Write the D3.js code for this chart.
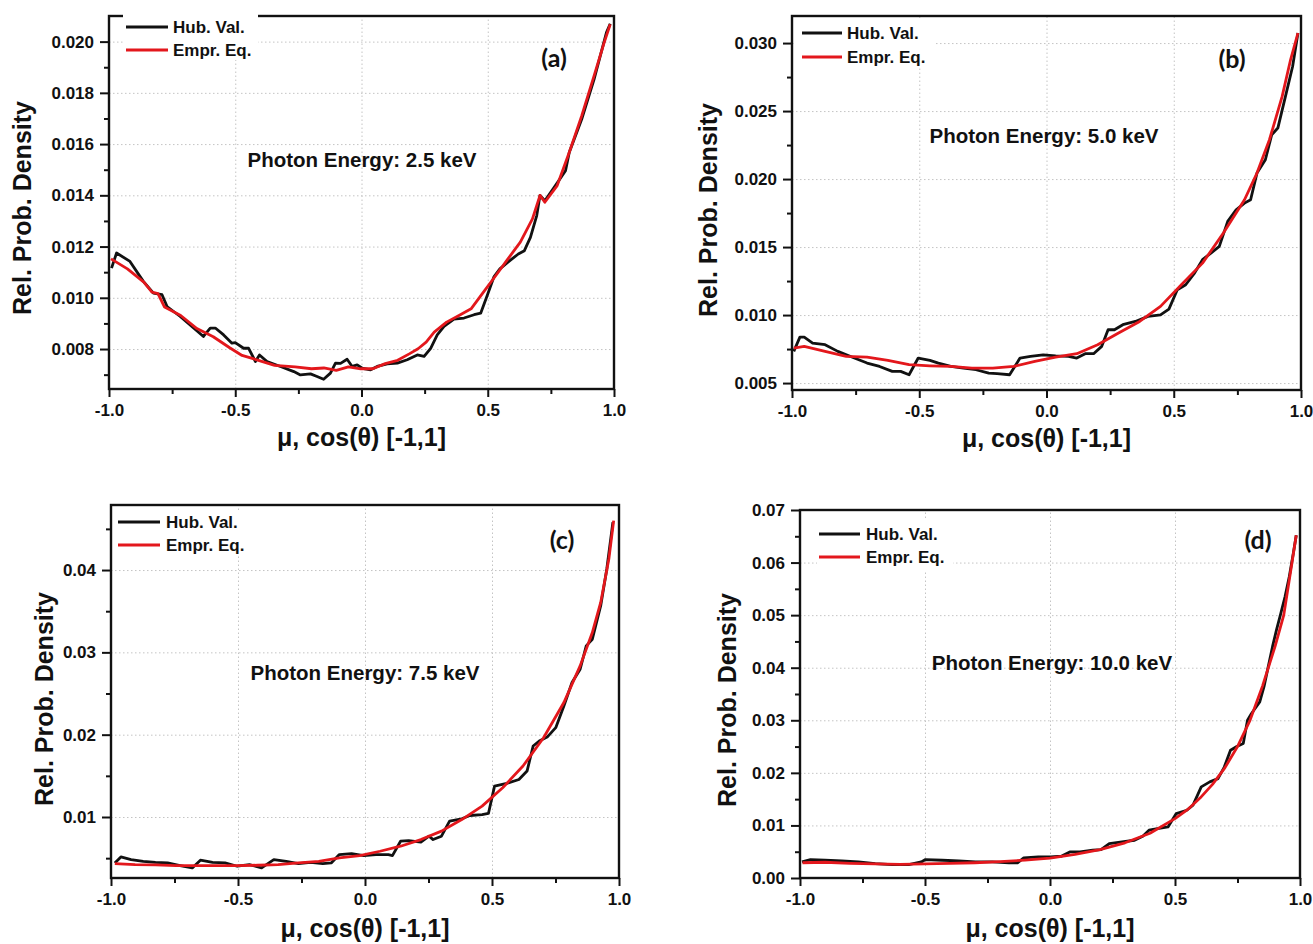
<!DOCTYPE html>
<html>
<head>
<meta charset="utf-8">
<script src="https://cdn.jsdelivr.net/npm/d3@7"></script>
<style>
  body { margin: 0; background: #fff; }
  svg text { font-family: "Liberation Sans", Arial, sans-serif; font-weight: bold; fill: #111; }
  .grid line { stroke: #c4c4c4; stroke-width: 1; stroke-dasharray: 1.5,2.5; }
  .grid .domain { display: none; }
</style>
</head>
<body>
<div id="chart"></div>
<script>
// x axis ticks (shared)
var xTicks = [-1, -0.5, 0, 0.5, 1];
var xTickLabels = ["-1.0", "-0.5", "0.0", "0.5", "1.0"];
var xMinor = [-0.75, -0.25, 0.25, 0.75];

// y axis ticks per panel
var yTicksA = [0.008, 0.010, 0.012, 0.014, 0.016, 0.018, 0.020];
var yMinorA = [0.007, 0.009, 0.011, 0.013, 0.015, 0.017, 0.019];
var yTicksB = [0.005, 0.010, 0.015, 0.020, 0.025, 0.030];
var yMinorB = [0.0075, 0.0125, 0.0175, 0.0225, 0.0275];
var yTicksC = [0.01, 0.02, 0.03, 0.04];
var yMinorC = [0.005, 0.015, 0.025, 0.035, 0.045];
var yTicksD = [0.00, 0.01, 0.02, 0.03, 0.04, 0.05, 0.06, 0.07];
var yMinorD = [0.005, 0.015, 0.025, 0.035, 0.045, 0.055, 0.065];

var seriesNames = ["Hub. Val.", "Empr. Eq."];
var energies = ["2.5", "5.0", "7.5", "10.0"];
var panelTags = ["(a)", "(b)", "(c)", "(d)"];

// (a) 2.5 keV  [mu, density]
var hubA = [[-0.99,0.01116],[-0.97,0.01175],[-0.917,0.01142],[-0.864,0.01064],[-0.824,0.01018],[-0.79,0.01012],[-0.77,0.00966],[-0.718,0.00927],[-0.665,0.00882],[-0.626,0.00849],[-0.599,0.00882],[-0.579,0.00882],[-0.546,0.00855],[-0.513,0.00823],[-0.5,0.00825],[-0.467,0.00803],[-0.447,0.00803],[-0.42,0.00751],[-0.404,0.00777],[-0.374,0.00751],[-0.321,0.00732],[-0.268,0.00712],[-0.242,0.00699],[-0.202,0.00703],[-0.176,0.00693],[-0.15,0.00682],[-0.123,0.00706],[-0.103,0.00745],[-0.083,0.00744],[-0.057,0.0076],[-0.037,0.00732],[-0.017,0.00738],[0.003,0.00725],[0.036,0.00719],[0.062,0.00732],[0.102,0.00742],[0.142,0.00745],[0.181,0.00758],[0.221,0.00777],[0.248,0.00771],[0.274,0.00803],[0.3,0.00855],[0.327,0.00888],[0.366,0.00917],[0.406,0.00921],[0.446,0.00934],[0.472,0.0094],[0.499,0.01012],[0.525,0.01083],[0.548,0.01113],[0.58,0.01139],[0.621,0.01171],[0.645,0.01184],[0.669,0.01236],[0.694,0.01321],[0.707,0.014],[0.726,0.01379],[0.759,0.01425],[0.808,0.01496],[0.823,0.01568],[0.872,0.01697],[0.921,0.01853],[0.97,0.02035],[0.985,0.0207]];
var emprA = [[-0.992,0.01152],[-0.927,0.01113],[-0.862,0.01061],[-0.83,0.01022],[-0.806,0.01016],[-0.78,0.00964],[-0.716,0.00931],[-0.652,0.0088],[-0.587,0.00848],[-0.522,0.00805],[-0.473,0.00775],[-0.408,0.00756],[-0.344,0.00736],[-0.263,0.0073],[-0.198,0.00723],[-0.149,0.00726],[-0.1,0.00717],[-0.052,0.0073],[-0.003,0.00723],[0.045,0.00723],[0.094,0.00743],[0.143,0.00756],[0.191,0.00782],[0.224,0.00801],[0.256,0.00827],[0.288,0.00866],[0.337,0.00905],[0.386,0.00931],[0.434,0.00957],[0.483,0.01022],[0.532,0.01087],[0.58,0.01152],[0.629,0.01217],[0.677,0.01308],[0.707,0.014],[0.726,0.01373],[0.775,0.01438],[0.823,0.01568],[0.872,0.0171],[0.921,0.01866],[0.961,0.01996],[0.985,0.02068]];

// (b) 5.0 keV
var hubB = [[-0.993,0.00733],[-0.969,0.00838],[-0.952,0.00838],[-0.919,0.00794],[-0.87,0.00782],[-0.82,0.00733],[-0.755,0.00684],[-0.705,0.00647],[-0.656,0.00622],[-0.606,0.00586],[-0.573,0.00586],[-0.54,0.00561],[-0.504,0.00684],[-0.458,0.00667],[-0.425,0.00647],[-0.376,0.00622],[-0.326,0.0061],[-0.277,0.00598],[-0.227,0.00573],[-0.194,0.00569],[-0.145,0.00561],[-0.104,0.00684],[-0.063,0.00696],[-0.013,0.00708],[0.036,0.007],[0.086,0.00696],[0.119,0.00684],[0.152,0.00716],[0.185,0.00716],[0.217,0.0077],[0.242,0.00892],[0.267,0.00892],[0.3,0.00929],[0.349,0.00953],[0.399,0.0099],[0.448,0.01002],[0.481,0.01044],[0.514,0.01186],[0.547,0.01223],[0.58,0.01304],[0.613,0.01407],[0.646,0.01456],[0.679,0.01505],[0.712,0.01689],[0.745,0.01774],[0.778,0.01823],[0.802,0.01848],[0.827,0.02044],[0.86,0.02142],[0.885,0.02326],[0.909,0.02375],[0.942,0.02632],[0.967,0.02828],[0.988,0.03074]];
var emprB = [[-0.993,0.00757],[-0.952,0.0077],[-0.87,0.00733],[-0.787,0.00696],[-0.705,0.00691],[-0.623,0.00667],[-0.54,0.00635],[-0.458,0.00627],[-0.376,0.00622],[-0.293,0.0061],[-0.211,0.0061],[-0.129,0.00622],[-0.046,0.00659],[0.036,0.00691],[0.119,0.00716],[0.201,0.00782],[0.283,0.00868],[0.366,0.00953],[0.448,0.01064],[0.53,0.01223],[0.613,0.01382],[0.695,0.01603],[0.778,0.01848],[0.827,0.02044],[0.876,0.02289],[0.926,0.02608],[0.959,0.02877],[0.988,0.03074]];

// (c) 7.5 keV
var hubC = [[-0.985,0.00442],[-0.961,0.00515],[-0.921,0.00483],[-0.873,0.00462],[-0.825,0.0045],[-0.777,0.00442],[-0.728,0.0041],[-0.68,0.00381],[-0.648,0.00475],[-0.6,0.0045],[-0.551,0.00442],[-0.503,0.00402],[-0.455,0.00422],[-0.407,0.00381],[-0.359,0.00483],[-0.31,0.00462],[-0.262,0.00434],[-0.214,0.0045],[-0.166,0.00434],[-0.133,0.00442],[-0.101,0.00544],[-0.053,0.00556],[-0.005,0.00531],[0.043,0.00544],[0.092,0.00544],[0.108,0.00531],[0.14,0.00706],[0.172,0.00714],[0.22,0.00694],[0.252,0.00767],[0.268,0.00726],[0.301,0.00767],[0.333,0.00949],[0.381,0.00978],[0.413,0.01018],[0.461,0.0103],[0.486,0.01043],[0.51,0.01375],[0.558,0.01408],[0.606,0.01456],[0.638,0.01558],[0.662,0.01862],[0.686,0.01923],[0.719,0.01976],[0.751,0.02085],[0.783,0.02349],[0.815,0.02633],[0.847,0.02795],[0.871,0.03079],[0.895,0.0316],[0.928,0.03566],[0.952,0.04012],[0.976,0.0458]];
var emprC = [[-0.985,0.00434],[-0.905,0.00422],[-0.825,0.00418],[-0.744,0.0041],[-0.664,0.0041],[-0.584,0.0041],[-0.503,0.0041],[-0.423,0.00414],[-0.342,0.00422],[-0.262,0.00442],[-0.182,0.00462],[-0.101,0.00503],[-0.021,0.00531],[0.059,0.00584],[0.14,0.00645],[0.22,0.00726],[0.301,0.00828],[0.381,0.00969],[0.461,0.01132],[0.542,0.01355],[0.622,0.01619],[0.703,0.01963],[0.783,0.0239],[0.847,0.02836],[0.895,0.03241],[0.928,0.03607],[0.96,0.04134],[0.979,0.046]];

// (d) 10.0 keV
var hubD = [[-0.992,0.00306],[-0.958,0.0035],[-0.9,0.00338],[-0.833,0.00325],[-0.766,0.00306],[-0.699,0.00274],[-0.632,0.00255],[-0.565,0.00255],[-0.515,0.00306],[-0.498,0.0035],[-0.431,0.00338],[-0.365,0.00325],[-0.298,0.00306],[-0.231,0.00306],[-0.164,0.00287],[-0.13,0.00287],[-0.105,0.00382],[-0.047,0.00401],[0.003,0.00401],[0.045,0.00414],[0.079,0.00496],[0.12,0.00496],[0.171,0.00528],[0.204,0.00541],[0.237,0.00655],[0.288,0.00687],[0.338,0.00718],[0.371,0.00795],[0.396,0.00909],[0.43,0.00941],[0.472,0.00972],[0.505,0.01226],[0.547,0.01289],[0.572,0.01385],[0.605,0.01734],[0.639,0.01829],[0.672,0.0189],[0.697,0.0211],[0.722,0.0243],[0.747,0.025],[0.773,0.0256],[0.79,0.03],[0.806,0.0313],[0.839,0.0335],[0.856,0.0364],[0.873,0.0402],[0.89,0.044],[0.906,0.0472],[0.923,0.0503],[0.94,0.0535],[0.957,0.0573],[0.973,0.0617],[0.985,0.0652]];
var emprD = [[-0.99,0.0029],[-0.9,0.003],[-0.8,0.0028],[-0.7,0.0027],[-0.6,0.0026],[-0.5,0.0027],[-0.4,0.0028],[-0.3,0.0029],[-0.2,0.0031],[-0.1,0.0034],[0.0,0.0038],[0.1,0.0045],[0.2,0.0054],[0.3,0.0067],[0.4,0.0085],[0.5,0.0113],[0.55,0.013],[0.6,0.0152],[0.65,0.0178],[0.7,0.021],[0.75,0.025],[0.8,0.03],[0.85,0.0365],[0.9,0.044],[0.935,0.05],[0.968,0.06],[0.985,0.0652]];

// layout of the four panels (page pixels)
var panels = [
  {left:109, right:614, top:16, bottom:389, yDomain:[0.00644,0.0210], yTicks:yTicksA, yMinor:yMinorA, fmt:".3f",
   hub:hubA, empr:emprA, ytX:31, ytY:208, xtY:446, enX:362, enY:167, tagX:554, tagY:67,
   leg:{box:[123,12,135,48], x1:126, x2:168, y1:27, y2:50, tx:173}},
  {left:792, right:1301, top:16, bottom:390, yDomain:[0.00449,0.03199], yTicks:yTicksB, yMinor:yMinorB, fmt:".3f",
   hub:hubB, empr:emprB, ytX:717, ytY:210, xtY:447, enX:1044, enY:143, tagX:1232, tagY:68,
   leg:{box:[796,20,139,48], x1:802, x2:842, y1:33, y2:57, tx:847}},
  {left:111, right:619, top:505, bottom:878, yDomain:[0.00259,0.0479], yTicks:yTicksC, yMinor:yMinorC, fmt:".2f",
   hub:hubC, empr:emprC, ytX:53, ytY:699, xtY:937, enX:365, enY:680, tagX:562, tagY:549,
   leg:{box:[116,510,139,46], x1:118, x2:160, y1:522, y2:545, tx:166}},
  {left:800, right:1300, top:510, bottom:878, yDomain:[0,0.07], yTicks:yTicksD, yMinor:yMinorD, fmt:".2f",
   hub:hubD, empr:emprD, ytX:736, ytY:700, xtY:937, enX:1052, enY:670, tagX:1258, tagY:549,
   leg:{box:[817,518,136,52], x1:819, x2:860, y1:534, y2:557, tx:866}}
];

var svg = d3.select("#chart")
  .append("svg")
    .attr("width", 1313)
    .attr("height", 944);

var black = "#111111", red = "#e3171c";

function plotPanel(p, i) {
  var x = d3.scaleLinear().domain([-1, 1]).range([p.left, p.right]);
  var y = d3.scaleLinear().domain(p.yDomain).range([p.bottom, p.top]);
  var g = svg.append("g");
  var h = p.bottom - p.top, w = p.right - p.left;

  // dotted grid
  g.append("g").attr("class", "grid")
    .attr("transform", "translate(0," + p.bottom + ")")
    .call(d3.axisBottom(x).tickValues([-0.5, 0, 0.5]).tickSize(-h).tickFormat(""));
  g.append("g").attr("class", "grid")
    .attr("transform", "translate(" + p.left + ",0)")
    .call(d3.axisLeft(y).tickValues(p.yTicks.filter(function(d){ return y(d) > p.top + 2 && y(d) < p.bottom - 2; }))
      .tickSize(-w).tickFormat(""));

  // frame
  g.append("rect")
    .attr("x", p.left).attr("y", p.top)
    .attr("width", w).attr("height", h)
    .attr("fill", "none").attr("stroke", black).attr("stroke-width", 2.4);

  // axes: major + minor ticks
  var xAx = g.append("g").attr("transform", "translate(0," + p.bottom + ")")
    .call(d3.axisBottom(x).tickValues(xTicks).tickSize(8).tickPadding(7)
      .tickFormat(function(d, k){ return xTickLabels[k]; }));
  g.append("g").attr("transform", "translate(0," + p.bottom + ")")
    .call(d3.axisBottom(x).tickValues(xMinor).tickSize(5).tickFormat(""));
  var yAx = g.append("g").attr("transform", "translate(" + p.left + ",0)")
    .call(d3.axisLeft(y).tickValues(p.yTicks).tickSize(9).tickPadding(6).tickFormat(d3.format(p.fmt)));
  g.append("g").attr("transform", "translate(" + p.left + ",0)")
    .call(d3.axisLeft(y).tickValues(p.yMinor).tickSize(5).tickFormat(""));
  g.selectAll(".domain").filter(function(){ return !this.parentNode.classList.contains("grid"); }).remove();
  g.selectAll("g.tick line").filter(function(){ return !this.parentNode.parentNode.classList.contains("grid"); })
    .attr("stroke", black).attr("stroke-width", 2);
  xAx.selectAll("text").style("font-size", "17px").attr("fill", black);
  yAx.selectAll("text").style("font-size", "17px").attr("fill", black);

  // legend (white box behind it)
  var L = p.leg;
  g.append("rect").attr("x", L.box[0]).attr("y", L.box[1]).attr("width", L.box[2]).attr("height", L.box[3]).attr("fill", "#fff");
  [[L.y1, black], [L.y2, red]].forEach(function(r, k) {
    g.append("line").attr("x1", L.x1).attr("x2", L.x2).attr("y1", r[0]).attr("y2", r[0])
      .attr("stroke", r[1]).attr("stroke-width", 3);
    g.append("text").attr("x", L.tx).attr("y", r[0]).attr("dy", "0.36em")
      .style("font-size", "17px").text(seriesNames[k]);
  });

  // curves
  var line = d3.line()
    .x(function(d){ return x(d[0]); })
    .y(function(d){ return y(d[1]); });
  g.append("path").datum(p.hub).attr("d", line)
    .attr("fill", "none").attr("stroke", black).attr("stroke-width", 2.8).attr("stroke-linejoin", "round");
  g.append("path").datum(p.empr).attr("d", line)
    .attr("fill", "none").attr("stroke", red).attr("stroke-width", 2.8).attr("stroke-linejoin", "round");

  // titles and notes
  g.append("text")
    .attr("transform", "translate(" + p.ytX + "," + p.ytY + ") rotate(-90)")
    .attr("text-anchor", "middle").style("font-size", "25px")
    .text("Rel. Prob. Density");
  g.append("text")
    .attr("x", (p.left + p.right) / 2).attr("y", p.xtY)
    .attr("text-anchor", "middle").style("font-size", "25px")
    .text("\u03bc, cos(\u03b8) [-1,1]");
  g.append("text")
    .attr("x", p.enX).attr("y", p.enY)
    .attr("text-anchor", "middle").style("font-size", "20.5px")
    .text("Photon Energy: " + energies[i] + " keV");
  g.append("text")
    .attr("x", p.tagX).attr("y", p.tagY)
    .attr("text-anchor", "middle").style("font-size", "25px").style("font-family", "Lato, 'Open Sans', sans-serif")
    .text(panelTags[i]);
}

panels.forEach(plotPanel);
</script>
</body>
</html>
